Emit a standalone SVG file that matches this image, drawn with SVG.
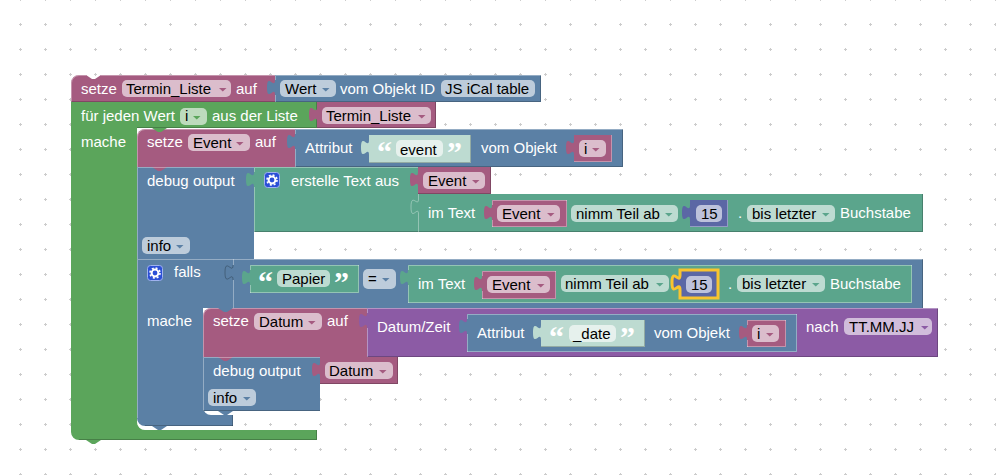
<svg xmlns="http://www.w3.org/2000/svg" width="996" height="475" viewBox="0 0 996 475">
<style>
text{font-family:"Liberation Sans",Arial,sans-serif;font-size:15px;fill:#fff}
text.k{fill:#000}
text.q{font-family:"Liberation Serif",serif;font-weight:bold;font-size:30px}
.r{fill:#a55b80}.b{fill:#5b80a5}.g{fill:#5ba55b}.t{fill:#5ba58c}.p{fill:#8c5ba5}.m{fill:#5b67a5}.s{fill:#bddbd1}
.pr{fill:#dbbdcc}.pb{fill:#bdccdb}.pg{fill:#bddbbd}.pt{fill:#bddbd1}.pp{fill:#d1bddb}.pm{fill:#bdc2db}.ps{fill:#e6f1ed}
.hl{fill:none;stroke:#fff;stroke-opacity:.35}
.sd{fill:none;stroke:#000;stroke-opacity:.22}
.ol{stroke:#000;stroke-opacity:.25;stroke-width:1}
</style>
<defs>
<pattern id="grid" patternUnits="userSpaceOnUse" x="8" y="12" width="25" height="25"><path d="M11,12.5h3M12.5,11v3" stroke="#ccc" fill="none"/></pattern>
<path id="tab" d="M0,0c0,10 -8,-8 -8,7.5s8,-2.5 8,7.5z"/>
<path id="arr" d="M0,1h7.5l-3.75,3.4z"/>
<path id="bump" d="M0,0l6,4h3l6,-4z"/>
<g id="gear">
<rect x=".5" y=".5" width="15" height="15" rx="3" fill="#2b4fd6" stroke="#9fb2ee" stroke-width="1"/>
<circle cx="8" cy="8" r="3.4" fill="none" stroke="#fff" stroke-width="2"/>
<circle cx="8" cy="8" r="5" fill="none" stroke="#fff" stroke-width="1.6" stroke-dasharray="2 1.93"/>
</g>
</defs>
<rect width="996" height="475" fill="#fff"/>
<rect width="996" height="475" fill="url(#grid)"/>

<g id="loop">
<path class="g" d="M71,102H317V128H137V422a8,8 0 0 0 8,8H317V440H79a8,8 0 0 1 -8,-8z"/>
<use href="#bump" class="g" x="86" y="440"/>
<path class="sd" d="M316.500,102V127.500H137M316.500,430V439.500H79"/>
<path class="hl" d="M137.500,128V422a7.500,7.500 0 0 0 7.500,7.500H317"/>
<text x="81" y="121">für jeden Wert</text>
<rect class="pg" x="180" y="108" width="27" height="17" rx="5"/><text class="k" x="185" y="121">i</text><use href="#arr" class="g" x="193" y="115"/>
<text x="212" y="121">aus der Liste</text>
<text x="81" y="147">mache</text>
</g>

<g id="setTermin">
<path class="r" d="M79,75H86l6,4h3l6,-4H275V102H71V83a8,8 0 0 1 8,-8z"/>
<path class="hl" d="M71.500,102V83a7.500,7.500 0 0 1 7.500,-7.500H86M101,75.500H275"/>
<path class="sd" d="M71,101.500H275"/>
<text x="81" y="94">setze</text>
<rect class="pr" x="122" y="80" width="109" height="17" rx="5"/><text class="k" x="126" y="94">Termin_Liste</text><use href="#arr" class="r" x="219" y="87"/>
<text x="236" y="94">auf</text>
</g>

<g id="wert">
<rect class="b" x="275" y="75" width="266" height="27"/>
<use href="#tab" class="b" x="275" y="80"/>
<path class="sd" d="M540.500,75V101.500H275"/>
<path class="hl" d="M275.500,102V95M275.500,80V75.500H541"/>
<rect class="pb" x="280" y="80" width="56" height="17" rx="5"/><text class="k" x="285" y="94">Wert</text><use href="#arr" class="b" x="322" y="87"/>
<text x="340" y="94">vom Objekt ID</text>
<rect class="pb" x="441" y="80" width="94" height="17" rx="5"/><text class="k" x="445" y="94">JS iCal table</text>
</g>

<g id="listVar">
<rect class="r" x="317" y="102" width="119" height="26"/>
<use href="#tab" class="r" x="317" y="107"/>
<path class="sd" d="M435.500,102V127.500H317"/>
<rect class="pr" x="322" y="107" width="109" height="17" rx="5"/><text class="k" x="326" y="121">Termin_Liste</text><use href="#arr" class="r" x="418" y="114"/>
</g>

<g id="setEvent">
<path class="r" d="M145,129H295V167H137V137a8,8 0 0 1 8,-8z"/>
<path class="hl" d="M137.500,167V137a7.500,7.500 0 0 1 7.500,-7.500H295"/>
<use href="#bump" class="g" x="152" y="128"/>
<text x="147" y="147">setze</text>
<rect class="pr" x="188" y="134" width="62" height="17" rx="5"/><text class="k" x="193" y="148">Event</text><use href="#arr" class="r" x="236" y="141"/>
<text x="255" y="147">auf</text>
</g>

<g id="attrEvent">
<rect class="b" x="295" y="129" width="328" height="38"/>
<use href="#tab" class="b" x="295" y="134"/>
<path class="sd" d="M622.500,129V166.500H295"/>
<path class="hl" d="M295.500,167V149M295.500,134V129.500H623"/>
<text x="305" y="153">Attribut</text>
<text x="481" y="153">vom Objekt</text>
</g>

<g id="strEvent">
<rect class="s" x="369" y="135" width="102" height="28"/>
<use href="#tab" class="s" x="369" y="140"/>
<path class="sd" d="M470.500,135V162.500H369"/>
<text class="q" x="377" y="162">“</text>
<rect class="ps" x="396" y="140" width="47" height="17" rx="5"/><text class="k" x="400" y="155">event</text>
<text class="q" x="447" y="162">”</text>
</g>

<g id="iVar1">
<rect class="r" x="574" y="135" width="38" height="27"/>
<use href="#tab" class="r" x="574" y="140"/>
<path class="hl" d="M611.500,135V161.500H574"/>
<rect class="pr" x="579" y="140" width="27" height="17" rx="5"/><text class="k" x="584" y="154">i</text><use href="#arr" class="r" x="592" y="147"/>
</g>

<g id="debug1">
<rect class="b" x="137" y="167" width="117" height="92"/>
<use href="#bump" class="r" x="152" y="167"/>
<path class="hl" d="M137.500,259V167.500H254"/>
<text x="147" y="186">debug output</text>
<rect class="pb" x="142" y="237" width="48" height="17" rx="5"/><text class="k" x="147" y="251">info</text><use href="#arr" class="b" x="176" y="244"/>
</g>

<g id="createText">
<path class="t" d="M254,167H418V194H923V232H254z"/>
<use href="#tab" class="t" x="254" y="172"/>
<path class="sd" d="M922.500,194V231.500H254"/>
<path class="hl" d="M254.500,232V187M254.500,172V167.500H418"/>
<use href="#gear" x="264" y="172"/>
<text x="291" y="186">erstelle Text aus</text>
</g>

<g id="eventVar1">
<rect class="r" x="418" y="167" width="73" height="27"/>
<use href="#tab" class="r" x="418" y="172"/>
<path class="sd" d="M490.500,167V193.500H418"/>
<rect class="pr" x="423" y="172" width="62" height="17" rx="5"/><text class="k" x="428" y="186">Event</text><use href="#arr" class="r" x="472" y="179"/>
</g>

<g id="substring1">
<use href="#tab" class="t" x="418" y="199"/>
<path class="hl" d="M418.500,194V199c0,9 -7.500,-7 -7.500,8s7.500,-2 7.500,7V232"/>
<text x="428" y="218">im Text</text>
<text x="738" y="218">.</text>
<text x="840" y="218">Buchstabe</text>
<rect class="pt" x="571" y="205" width="107" height="17" rx="5"/><text class="k" x="576" y="219">nimm Teil ab</text><use href="#arr" class="t" x="665" y="212"/>
<rect class="pt" x="747" y="205" width="88" height="17" rx="5"/><text class="k" x="752" y="219">bis letzter</text><use href="#arr" class="t" x="822" y="212"/>
</g>

<g id="eventVar2">
<rect class="r" x="492" y="200" width="75" height="27"/>
<use href="#tab" class="r" x="492" y="205"/>
<path class="hl" d="M566.500,200V226.500H492M492.500,227V220M492.500,205V200.500H567"/>
<rect class="pr" x="497" y="205" width="63" height="17" rx="5"/><text class="k" x="502" y="219">Event</text><use href="#arr" class="r" x="547" y="212"/>
</g>

<g id="num1">
<rect class="m" x="690" y="200" width="38" height="27"/>
<use href="#tab" class="m" x="690" y="205"/>
<path class="hl" d="M727.500,200V226.500H690"/>
<rect class="pm" x="696" y="205" width="26" height="17" rx="5"/><text class="k" x="701" y="219">15</text>
</g>

<g id="falls">
<path class="b" d="M137,259H923V308H203V407a8,8 0 0 0 8,8H233V426H145a8,8 0 0 1 -8,-8z"/>
<use href="#bump" class="b" x="152" y="259"/>
<use href="#bump" class="b" x="152" y="426"/>
<path class="hl" d="M137.500,418V259.500H923M233.500,259V265M233.500,280V308"/>
<path class="sd" d="M922.500,259V308M233,425.500H145M232.500,415V426"/>
<path class="ol" fill="none" d="M233,265c0,10 -8,-8 -8,7.500s8,-2.500 8,7.500"/>
<path class="hl" d="M203.500,360V407"/>
<use href="#gear" x="147" y="265"/>
<text x="174" y="277">falls</text>
<text x="147" y="326">mache</text>
<rect class="pb" x="363" y="269" width="33" height="20" rx="5"/><text class="k" x="368" y="284">=</text><use href="#arr" class="b" x="382" y="277"/>
</g>

<g id="strPapier">
<rect class="t" x="250" y="265" width="109" height="28"/>
<use href="#tab" class="t" x="250" y="270"/>
<path class="hl" d="M358.500,265V292.500H250M250.500,293V285M250.500,270V265.500H359"/>
<text class="q" x="258" y="292">“</text>
<rect class="pt" x="277" y="270" width="53" height="17" rx="5"/><text class="k" x="282" y="284">Papier</text>
<text class="q" x="334" y="292">”</text>
</g>

<g id="substring2">
<rect class="t" x="408" y="265" width="504" height="38"/>
<use href="#tab" class="t" x="408" y="270"/>
<path class="hl" d="M911.500,265V302.500H408M408.500,303V285M408.500,270V265.500H912"/>
<text x="418" y="289">im Text</text>
<rect class="pt" x="561" y="275" width="108" height="17" rx="5"/><text class="k" x="565" y="289">nimm Teil ab</text><use href="#arr" class="t" x="656" y="282"/>
<text x="728" y="289">.</text>
<rect class="pt" x="737" y="275" width="88" height="17" rx="5"/><text class="k" x="742" y="289">bis letzter</text><use href="#arr" class="t" x="812" y="282"/>
<text x="830" y="289">Buchstabe</text>
</g>

<g id="eventVar3">
<rect class="r" x="482" y="271" width="74" height="28"/>
<use href="#tab" class="r" x="482" y="276"/>
<path class="hl" d="M555.500,271V298.500H482M482.500,299V291M482.500,276V271.500H556"/>
<rect class="pr" x="487" y="276" width="63" height="17" rx="5"/><text class="k" x="492" y="290">Event</text><use href="#arr" class="r" x="537" y="283"/>
</g>

<g id="num2">
<path class="m" d="M680,270H718V298H680V290c0,-10 -8,8 -8,-7.500s8,2.500 8,-7.500z"/>
<path fill="none" stroke="#f9c42f" stroke-width="3" d="M680,270H718V298H680V290c0,-10 -8,8 -8,-7.500s8,2.500 8,-7.500z"/>
<rect class="pm" x="686" y="276" width="26" height="17" rx="5"/><text class="k" x="691" y="290">15</text>
</g>

<g id="setDatum">
<path class="r" d="M211,308H367V357H203V316a8,8 0 0 1 8,-8z"/>
<path class="hl" d="M203.500,357V316a7.500,7.500 0 0 1 7.500,-7.500H367"/>
<use href="#bump" class="b" x="218" y="308"/>
<text x="213" y="326">setze</text>
<rect class="pr" x="254" y="313" width="68" height="17" rx="5"/><text class="k" x="259" y="327">Datum</text><use href="#arr" class="r" x="308" y="320"/>
<text x="327" y="326">auf</text>
</g>

<g id="dateTime">
<rect class="p" x="367" y="308" width="571" height="49"/>
<use href="#tab" class="p" x="367" y="313"/>
<path class="sd" d="M937.500,308V356.500H367"/>
<path class="hl" d="M367.500,357V328M367.500,313V308.500H938"/>
<text x="377" y="332">Datum/Zeit</text>
<text x="806" y="332">nach</text>
<rect class="pp" x="844" y="318" width="88" height="17" rx="5"/><text class="k" x="849" y="332">TT.MM.JJ</text><use href="#arr" class="p" x="921" y="325"/>
</g>

<g id="attrDate">
<rect class="b" x="467" y="314" width="330" height="38"/>
<use href="#tab" class="b" x="467" y="319"/>
<path class="hl" d="M796.500,314V351.500H467M467.500,352V334M467.500,319V314.500H797"/>
<text x="477" y="338">Attribut</text>
<text x="654" y="338">vom Objekt</text>
</g>

<g id="strDate">
<rect class="s" x="541" y="320" width="104" height="27"/>
<use href="#tab" class="s" x="541" y="325"/>
<path class="sd" d="M644.500,320V346.500H541"/>
<text class="q" x="549" y="347">“</text>
<rect class="ps" x="569" y="325" width="47" height="17" rx="5"/><text class="k" x="573" y="339">_date</text>
<text class="q" x="620" y="347">”</text>
</g>

<g id="iVar2">
<rect class="r" x="747" y="320" width="39" height="27"/>
<use href="#tab" class="r" x="747" y="325"/>
<path class="hl" d="M785.500,320V346.500H747M747.500,347V340M747.500,325V320.500H786"/>
<rect class="pr" x="752" y="325" width="27" height="17" rx="5"/><text class="k" x="757" y="339">i</text><use href="#arr" class="r" x="766" y="332"/>
</g>

<g id="debug2">
<rect class="b" x="203" y="357" width="117" height="54"/>
<use href="#bump" class="r" x="218" y="357"/>
<use href="#bump" class="b" x="218" y="411"/>
<path class="hl" d="M203.500,411V357.500H320"/>
<path class="sd" d="M203,410.500H320"/>
<text x="213" y="376">debug output</text>
<rect class="pb" x="208" y="389" width="48" height="17" rx="5"/><text class="k" x="213" y="403">info</text><use href="#arr" class="b" x="243" y="396"/>
</g>

<g id="datumVar">
<rect class="r" x="320" y="357" width="78" height="27"/>
<use href="#tab" class="r" x="320" y="362"/>
<path class="sd" d="M397.500,357V383.500H320"/>
<rect class="pr" x="325" y="362" width="68" height="17" rx="5"/><text class="k" x="329" y="376">Datum</text><use href="#arr" class="r" x="379" y="369"/>
</g>
</svg>
